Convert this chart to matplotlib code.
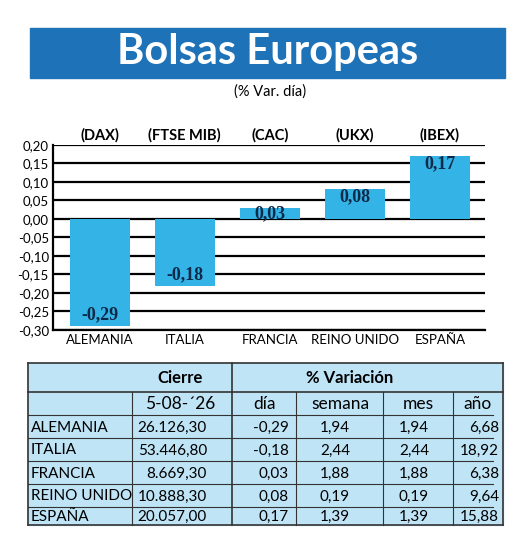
import matplotlib
matplotlib.use("Agg")
import matplotlib.pyplot as plt
from matplotlib.patches import Rectangle

# --- data ---
paises = ["ALEMANIA", "ITALIA", "FRANCIA", "REINO UNIDO", "ESPAÑA"]
indices = ["(DAX)", "(FTSE MIB)", "(CAC)", "(UKX)", "(IBEX)"]
var_dia = [-0.29, -0.18, 0.03, 0.08, 0.17]
cierre = ["26.126,30", "53.446,80", "8.669,30", "10.888,30", "20.057,00"]
semana = [1.94, 2.44, 1.88, 0.19, 1.39]
mes = [1.94, 2.44, 1.88, 0.19, 1.39]
anio = [6.68, 18.92, 6.38, 9.64, 15.88]
fecha = "5-08-´26"

W, H = 520, 546
BLUE = "#1e73b8"
BAR = "#34b4e6"
NAVY = "#0d2a4a"
TBL = "#bfe4f6"


def fx(x):
    return x / W


def fy(y):
    return 1 - y / H


def fmt(v):
    return f"{v:.2f}".replace(".", ",")


fig = plt.figure(figsize=(W / 100, H / 100), dpi=100)
fig.patch.set_facecolor("white")

# --- banner ---
fig.patches.append(Rectangle((fx(30), fy(78)), fx(475), 50 / H,
                             transform=fig.transFigure, color=BLUE))
fig.text(fx(268), fy(52), "Bolsas Europeas", color="white", fontsize=30,
         fontweight="bold", ha="center", va="center", family="Lato")
fig.text(fx(270), fy(92), "(% Var. día)", fontsize=10.5, ha="center",
         va="center", family="Lato")

# --- bar chart ---
ax = fig.add_axes([fx(53), fy(330), fx(432), 185 / H])
x = range(len(paises))
ax.bar(x, var_dia, width=0.7, color=BAR, zorder=3)
ax.set_ylim(-0.30, 0.20)
ax.set_xlim(-0.55, 4.53)
yt = [i / 100 for i in range(-30, 21, 5)]
ax.set_yticks(yt)
ax.set_yticklabels([fmt(v) for v in yt], fontsize=9.5, family="Lato")
ax.set_xticks(list(x))
ax.set_xticklabels(paises, fontsize=9.5, family="Lato")
ax.tick_params(length=0, pad=3)
ax.yaxis.grid(True, color="black", lw=1.6, zorder=1)
for s in ["top", "right"]:
    ax.spines[s].set_visible(False)
for s in ["left", "bottom"]:
    ax.spines[s].set_linewidth(1.6)
for i, v in enumerate(var_dia):
    yy = v + 0.03 if v < 0 else v - 0.02
    if abs(v) < 0.05:
        yy = v / 2
    ax.text(i, yy, fmt(v), ha="center", va="center", fontsize=13,
            fontweight="bold", color=NAVY, family="Liberation Serif", zorder=4)
for i, t in enumerate(indices):
    ax.text(i, 0.225, t, ha="center", va="center", fontsize=10.5,
            fontweight="bold", family="Lato")

# --- table ---
L, R, T, B = 28, 503, 363, 525
fig.patches.append(Rectangle((fx(L), fy(B)), fx(R - L), (B - T) / H,
                             transform=fig.transFigure, color=TBL))
rows = [363, 392, 415, 438, 461, 484, 507, 525]


def hline(y, x0, x1, lw=0.8):
    fig.add_artist(plt.Line2D([fx(x0), fx(x1)], [fy(y), fy(y)],
                              color="#333333", lw=lw))


def vline(x0, y0, y1, lw=0.8):
    fig.add_artist(plt.Line2D([fx(x0), fx(x0)], [fy(y0), fy(y1)],
                              color="#333333", lw=lw))


hline(T, L, R, 1.2)
hline(392, L, R, 1.2)
hline(B, L, R, 1.2)
for r in rows[2:-1]:
    hline(r, L, R - 10, 0.8)
vline(L, T, B, 1.2)
vline(R, T, B, 1.2)
vline(232, T, B, 1.2)
for c in [132, 296, 383, 453]:
    vline(c, 392, B)

fig.text(fx(180), fy(378), "Cierre", fontsize=12, fontweight="bold",
         ha="center", va="center", family="Lato")
fig.text(fx(350), fy(378), "% Variación", fontsize=12, fontweight="bold",
         ha="center", va="center", family="Lato")
hdr = [(fecha, 180), ("día", 264), ("semana", 340), ("mes", 418), ("año", 478)]
for t, cx in hdr:
    fig.text(fx(cx), fy(404), t, fontsize=12.5, ha="center", va="center",
             family="Lato")

for k in range(len(paises)):
    yc = fy((rows[k + 2] + rows[k + 3]) / 2 + 1)
    vals = [cierre[k], fmt(var_dia[k]), fmt(semana[k]), fmt(mes[k]), fmt(anio[k])]
    fig.text(fx(31), yc, paises[k], fontsize=11, ha="left", va="center",
             family="Lato")
    rights = [207, 289, 350, 429, 499]
    for v, rx in zip(vals, rights):
        fig.text(fx(rx), yc, v, fontsize=11, ha="right", va="center",
                 family="Lato")

fig.savefig("out.png", dpi=100, facecolor="white")
